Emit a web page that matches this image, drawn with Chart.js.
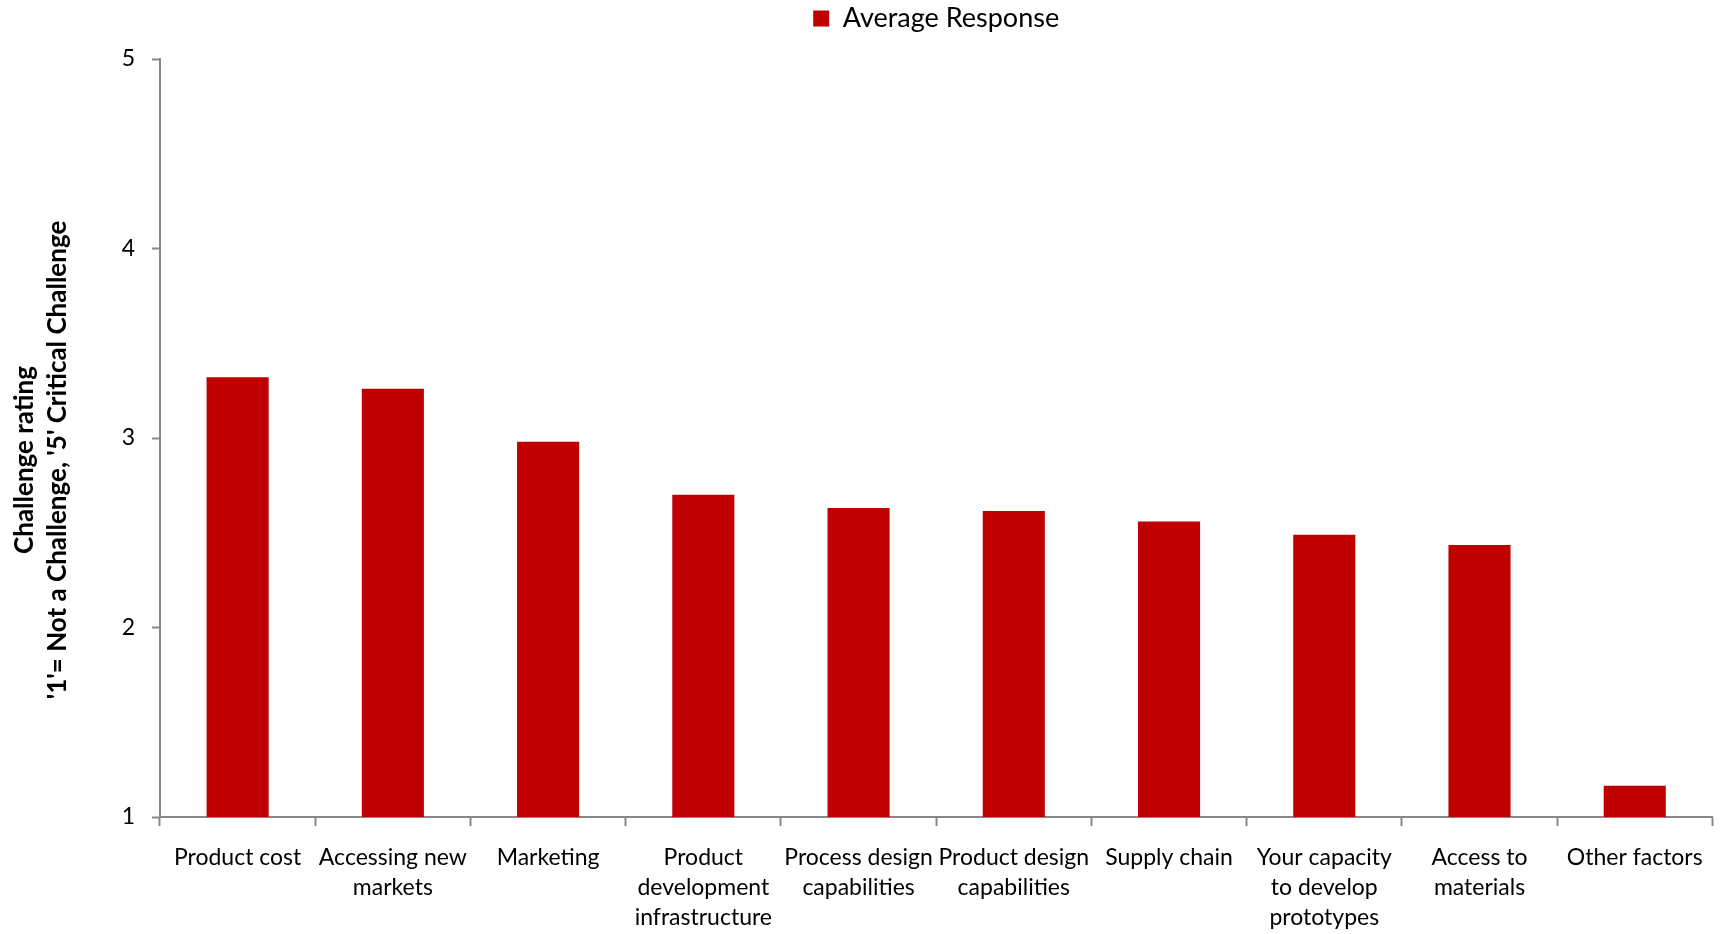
<!DOCTYPE html>
<html>
<head>
<meta charset="utf-8">
<script src="https://cdn.jsdelivr.net/npm/chart.js@4/dist/chart.umd.min.js"></script>
<style>
  html, body { margin: 0; padding: 0; background: #ffffff; }
  #wrap { width: 1720px; height: 934px; }
</style>
</head>
<body>
<div id="wrap"><canvas id="c" width="1720" height="934"></canvas></div>
<script>
const categories = [
  ["Product cost"],
  ["Accessing new", "markets"],
  ["Marketing"],
  ["Product", "development", "infrastructure"],
  ["Process design", "capabilities"],
  ["Product design", "capabilities"],
  ["Supply chain"],
  ["Your capacity", "to develop", "prototypes"],
  ["Access to", "materials"],
  ["Other factors"]
];
const seriesName = "Average Response";
const averageResponse = [3.32, 3.26, 2.98, 2.70, 2.63, 2.615, 2.56, 2.49, 2.435, 1.165];
const yTicks = [1, 2, 3, 4, 5];
const yTitle = ["Challenge rating", "'1'= Not a Challenge, '5' Critical Challenge"];

const FONT = "Lato, 'Open Sans', sans-serif";
const AXIS_GREY = "#888888";

const legendHeightPlugin = {
  id: "legendHeight",
  beforeInit(chart) {
    const origFit = chart.legend.fit;
    chart.legend.fit = function () {
      origFit.call(this);
      this.height = 59;
    };
  }
};

// Nudge the y-axis title slightly downward, as in the reference
const titleShiftPlugin = {
  id: "titleShift",
  afterLayout(chart) {
    const s = chart.scales.y;
    if (s._shifted) return;
    const orig = s.drawTitle;
    s.drawTitle = function (area) {
      const ctx = this.ctx;
      ctx.save();
      ctx.translate(0, 22);
      orig.call(this, area);
      ctx.restore();
    };
    s._shifted = true;
  }
};

new Chart(document.getElementById("c"), {
  type: "bar",
  data: {
    labels: categories,
    datasets: [{
      label: seriesName,
      data: averageResponse,
      backgroundColor: "#C00000",
      borderWidth: 0,
      barPercentage: 0.4,
      categoryPercentage: 1.0
    }]
  },
  options: {
    responsive: false,
    devicePixelRatio: 1,
    animation: false,
    layout: { padding: { left: 0, right: 7, top: 0, bottom: 0 } },
    plugins: {
      legend: {
        display: true,
        position: "top",
        fullSize: false,
        labels: {
          boxWidth: 16,
          boxHeight: 16,
          padding: 5,
          color: "#000000",
          font: { family: FONT, size: 27 }
        }
      },
      tooltip: { enabled: false }
    },
    scales: {
      x: {
        grid: {
          display: true,
          drawOnChartArea: false,
          drawTicks: true,
          tickLength: 9,
          tickWidth: 2,
          tickColor: AXIS_GREY,
          offset: true
        },
        border: { display: true, color: AXIS_GREY, width: 2 },
        ticks: {
          color: "#000000",
          padding: 17,
          maxRotation: 0,
          autoSkip: false,
          font: { family: FONT, size: 23, lineHeight: 1.3 }
        },
        afterFit(scale) { scale.height = 117; }
      },
      y: {
        min: 1,
        max: 5,
        afterBuildTicks(scale) { scale.ticks = yTicks.map(v => ({ value: v })); },
        grid: {
          display: true,
          drawOnChartArea: false,
          drawTicks: true,
          tickLength: 8,
          tickWidth: 2,
          tickColor: AXIS_GREY
        },
        border: { display: true, color: AXIS_GREY, width: 2 },
        ticks: {
          color: "#000000",
          padding: 17,
          font: { family: FONT, size: 23 }
        },
        title: {
          display: true,
          text: yTitle,
          color: "#000000",
          padding: { top: 8, bottom: 0 },
          font: { family: FONT, size: 26, weight: "bold", lineHeight: 1.27 }
        },
        afterFit(scale) { scale.width = 160; }
      }
    }
  },
  plugins: [legendHeightPlugin, titleShiftPlugin]
});
</script>
</body>
</html>
